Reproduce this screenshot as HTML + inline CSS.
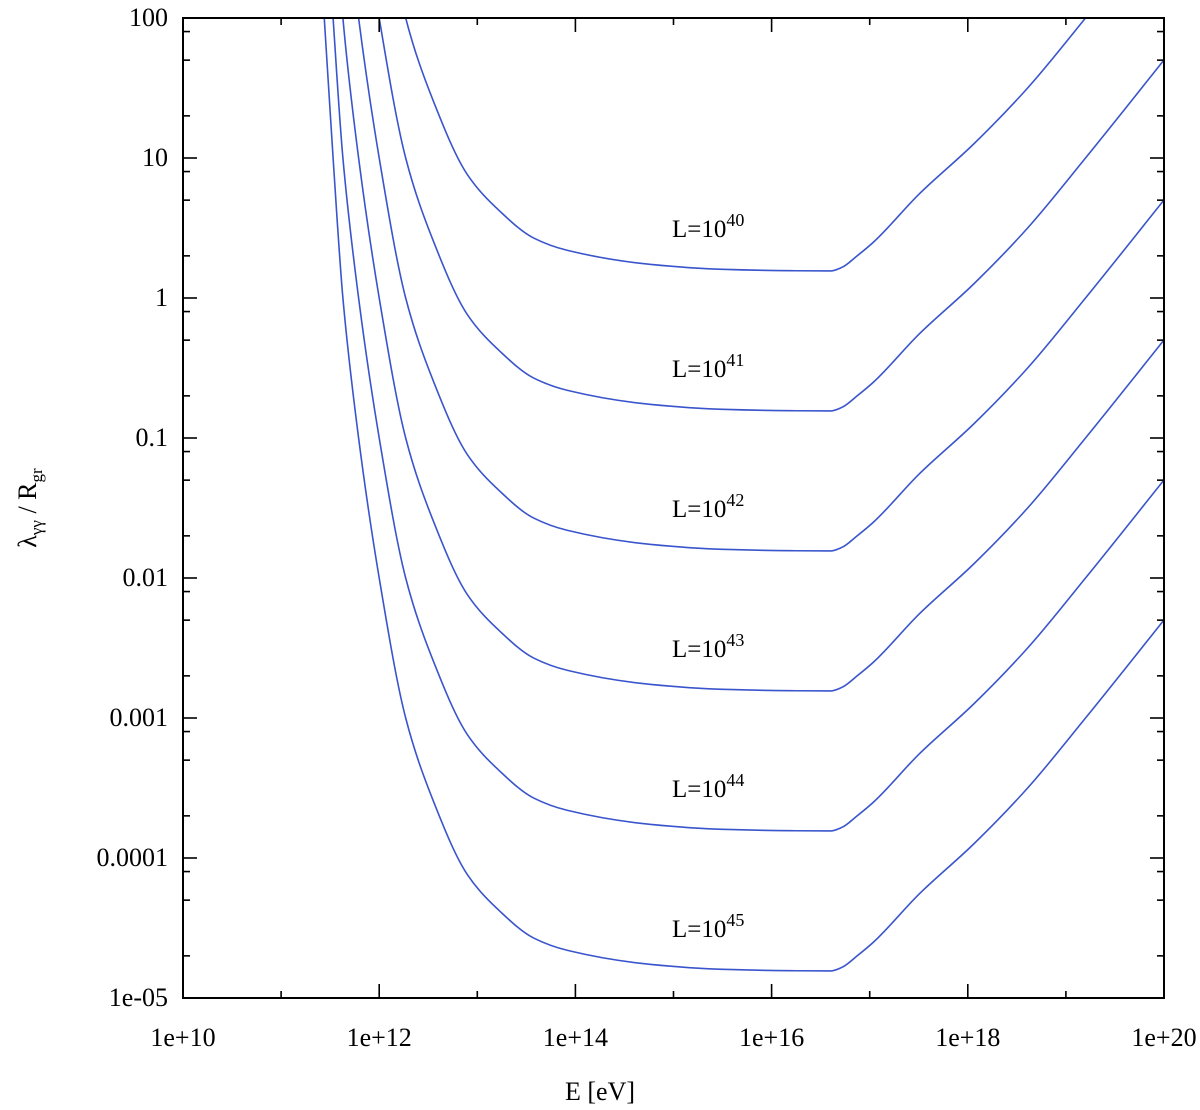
<!DOCTYPE html>
<html><head><meta charset="utf-8"><style>
html,body{margin:0;padding:0;background:#fff;}
svg{display:block;font-family:"Liberation Serif",serif;}
</style></head><body>
<svg id="chart" width="1200" height="1110" viewBox="0 0 1200 1110" xmlns="http://www.w3.org/2000/svg">
<defs><clipPath id="plotclip"><rect x="183" y="18" width="981" height="980"/></clipPath></defs>
<g id="curves" clip-path="url(#plotclip)"></g>
<g id="axes"></g>
<text x="600" y="1100" font-size="26" text-anchor="middle">E [eV]</text>
<text transform="translate(36,508) rotate(-90)" font-size="26" text-anchor="middle">λ<tspan font-size="17" dy="6">γγ</tspan><tspan dy="-6"> / R</tspan><tspan font-size="17" dy="6">gr</tspan></text>
</svg>
<script>
// Data
const luminosityExp = [40, 41, 42, 43, 44, 45];
// base curve (L=1e40): log10 E and log10 (lambda/Rgr)
const baseLogE =   [11.44, 11.53, 11.63, 11.79, 12.0, 12.27, 12.55, 12.9, 13.23, 13.57, 13.92, 14.77, 15.5, 16.2, 16.6, 16.72, 16.87, 17.04, 17.5, 18.06, 18.61, 19.2, 20.0];
const baseLogLam = [7.0,   6.0,   5.0,   4.0,   3.0,  2.0,   1.41,  0.88, 0.62,  0.43,  0.34,  0.24,  0.205, 0.195, 0.193, 0.22, 0.30, 0.40, 0.74, 1.1, 1.5, 2.0, 2.7];
const xTickLabels = ["1e+10","1e+12","1e+14","1e+16","1e+18","1e+20"];
const yTickLabels = ["1e-05","0.0001","0.001","0.01","0.1","1","10","100"];

const X0=183, X1=1164, Y0=998, Y1=18;
const xMin=10, xMax=20, yMin=-5, yMax=2;
function xs(le){return X0+(le-xMin)/(xMax-xMin)*(X1-X0);}
function ys(ll){return Y0-(ll-yMin)/(yMax-yMin)*(Y0-Y1);}
const NS="http://www.w3.org/2000/svg";
function mk(tag,attrs,parent){const e=document.createElementNS(NS,tag);for(const k in attrs)e.setAttribute(k,attrs[k]);parent.appendChild(e);return e;}

// monotone cubic (Fritsch-Carlson) path
function monoPath(pts){
  const n=pts.length, dx=[], m=[], t=new Array(n);
  for(let i=0;i<n-1;i++){dx.push(pts[i+1][0]-pts[i][0]);m.push((pts[i+1][1]-pts[i][1])/dx[i]);}
  t[0]=m[0]; t[n-1]=m[n-2];
  for(let i=1;i<n-1;i++){
    if(m[i-1]*m[i]<=0) t[i]=0;
    else { const w1=2*dx[i]+dx[i-1], w2=dx[i]+2*dx[i-1]; t[i]=(w1+w2)/(w1/m[i-1]+w2/m[i]); }
  }
  let d="M"+pts[0][0].toFixed(2)+","+pts[0][1].toFixed(2);
  for(let i=0;i<n-1;i++){
    const h=dx[i]/3;
    d+=" C"+(pts[i][0]+h).toFixed(2)+","+(pts[i][1]+t[i]*h).toFixed(2)+" "+(pts[i+1][0]-h).toFixed(2)+","+(pts[i+1][1]-t[i+1]*h).toFixed(2)+" "+pts[i+1][0].toFixed(2)+","+pts[i+1][1].toFixed(2);
  }
  return d;
}

const cg=document.getElementById('curves');
const root=document.getElementById('chart');
const plateau=Math.min(...baseLogLam);
luminosityExp.forEach((L)=>{
  const off=L-luminosityExp[0];
  const pts=baseLogE.map((le,i)=>[xs(le),ys(baseLogLam[i]-off)]);
  const p=mk('path',{d:monoPath(pts),fill:'none',stroke:'#3a55cc','stroke-width':'1.6'},cg);
  
  
  const t=mk('text',{x:672,y:ys(plateau-off)-34,'font-size':'25'},root);
  
  
  t.textContent='L=10';
  const s=mk('tspan',{'font-size':'18',dy:'-11'},t);
  s.textContent=String(L);
});

const ag=document.getElementById('axes');
mk('rect',{x:X0,y:Y1,width:X1-X0,height:Y0-Y1,fill:'none',stroke:'#000','stroke-width':'2'},ag);
for(let d=10;d<=20;d++){
  const x=xs(d), len=(d%2===0)?14:7;
  mk('line',{x1:x,y1:Y0,x2:x,y2:Y0-len,stroke:'#000','stroke-width':'1.6'},ag);
  mk('line',{x1:x,y1:Y1,x2:x,y2:Y1+len,stroke:'#000','stroke-width':'1.6'},ag);
}
xTickLabels.forEach((lab,i)=>{
  const t=mk('text',{x:xs(10+2*i),y:1046,'font-size':'26','text-anchor':'middle'},ag);
  
  
  t.textContent=lab;
});
for(let d=-5;d<=2;d++){
  const y=ys(d);
  mk('line',{x1:X0,y1:y,x2:X0+14,y2:y,stroke:'#000','stroke-width':'1.6'},ag);
  mk('line',{x1:X1,y1:y,x2:X1-14,y2:y,stroke:'#000','stroke-width':'1.6'},ag);
  if(d<2){[2,5,8].forEach(m=>{
    const ym=ys(d+Math.log10(m));
    mk('line',{x1:X0,y1:ym,x2:X0+7,y2:ym,stroke:'#000','stroke-width':'1.6'},ag);
    mk('line',{x1:X1,y1:ym,x2:X1-7,y2:ym,stroke:'#000','stroke-width':'1.6'},ag);
  });}
}
yTickLabels.forEach((lab,i)=>{
  const t=mk('text',{x:168,y:ys(-5+i)+8,'font-size':'26','text-anchor':'end'},ag);
  
  
  t.textContent=lab;
});
</script>
</body></html>
